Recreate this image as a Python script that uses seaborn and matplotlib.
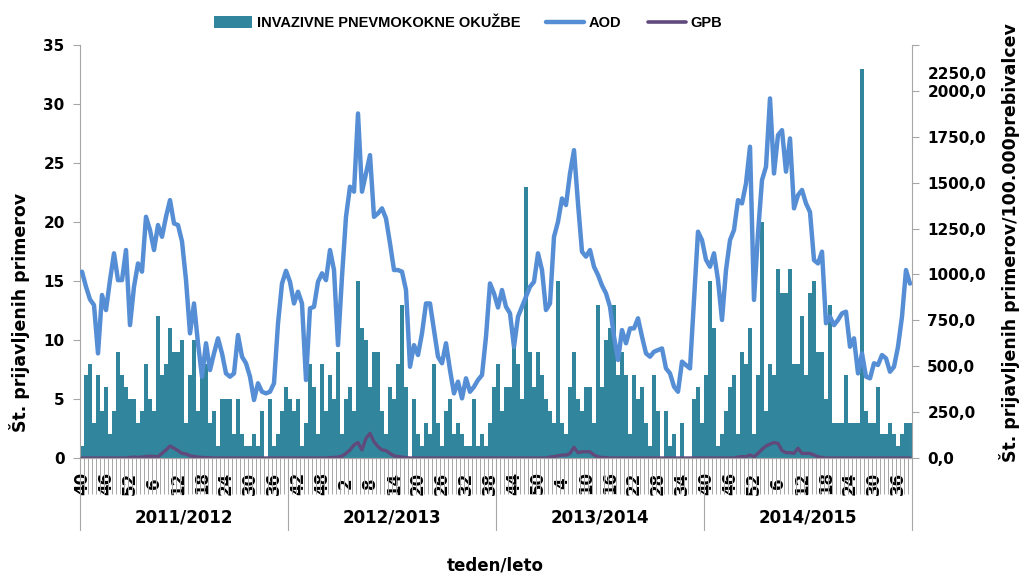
import numpy as np
import pandas as pd
import seaborn as sns
import matplotlib.pyplot as plt
from matplotlib.lines import Line2D
from matplotlib.patches import Patch
from matplotlib.ticker import FuncFormatter
from matplotlib.transforms import ScaledTranslation

# --- weekly data, week 40/2011 .. week 39/2015 (4 seasons x 52 weeks) ---
cases = [
    1, 7, 8, 3, 7, 4, 6, 2, 4, 9, 7, 6, 5, 5, 3, 4, 8, 5, 4, 12, 7, 8, 11, 9, 9, 10,
    3, 7, 10, 4, 8, 8, 3, 4, 1, 5, 5, 5, 2, 5, 2, 1, 1, 2, 1, 4, 0, 5, 1, 2, 4, 6,
    5, 4, 5, 1, 3, 8, 6, 2, 8, 4, 7, 5, 9, 2, 5, 6, 4, 15, 11, 10, 6, 9, 9, 4, 2, 6,
    5, 8, 13, 6, 0, 5, 2, 1, 3, 2, 8, 3, 1, 4, 5, 2, 3, 2, 1, 1, 5, 1, 2, 1, 3, 6,
    8, 4, 6, 6, 11, 8, 5, 23, 9, 6, 9, 7, 5, 4, 3, 15, 3, 2, 6, 9, 5, 4, 6, 6, 3, 13,
    6, 10, 11, 13, 7, 9, 7, 2, 7, 5, 6, 3, 1, 7, 4, 0, 4, 1, 2, 0, 3, 0, 0, 5, 6, 3,
    7, 15, 11, 1, 2, 4, 6, 7, 2, 9, 8, 11, 2, 7, 20, 4, 8, 7, 16, 14, 14, 16, 8, 8, 12, 7,
    14, 15, 9, 9, 5, 13, 3, 3, 3, 7, 3, 3, 3, 33, 4, 3, 3, 6, 2, 2, 3, 2, 1, 2, 3, 3,
]
aod = [
    1015, 933, 864, 833, 570, 888, 806, 969, 1115, 969, 969, 1133, 724, 933, 1060, 1015,
    1314, 1242, 1133, 1269, 1205, 1314, 1405, 1278, 1269, 1180, 970, 679, 842, 625, 443, 625,
    479, 570, 652, 570, 461, 443, 461, 670, 552, 516, 443, 316, 407, 361, 352, 361,
    407, 733, 950, 1020,
    960, 842, 906, 842, 425, 815, 824, 960, 1006, 969, 1133, 1024, 615, 988, 1314, 1478,
    1451, 1877, 1451, 1550, 1650, 1314, 1333, 1360, 1305, 1169, 1024, 1024, 1015, 915, 497, 615,
    561, 679, 842, 842, 697, 552, 516, 625, 479, 352, 416, 325, 434, 361, 388, 425,
    452, 661, 951, 897,
    820, 915, 824, 788, 606, 770, 824, 879, 933, 960, 1115, 1024, 806, 842, 1205, 1287,
    1414, 1378, 1550, 1677, 1387, 1124, 1097, 1133, 1042, 997, 940, 897, 824, 661, 534, 697,
    625, 706, 706, 761, 661, 570, 552, 579, 588, 597, 488, 461, 389, 361, 525, 506,
    488, 860, 1233, 1187,
    1080, 1042, 1115, 970, 752, 1024, 1187, 1242, 1405, 1387, 1496, 1696, 861, 1224, 1514, 1587,
    1959, 1550, 1759, 1786, 1560, 1741, 1360, 1432, 1460, 1387, 1340, 1078, 1060, 1124, 734, 770,
    724, 752, 788, 797, 606, 652, 461, 570, 443, 434, 516, 507, 561, 543, 470, 497,
    606, 770, 1024, 950,
]
gpb = [
    0, 0, 0, 0, 0, 0, 0, 0, 0, 0, 0, 0, 3, 5, 3, 5, 8, 10, 8, 7, 25, 44, 65, 53, 40, 25,
    22, 12, 8, 5, 3, 2, 1, 0, 0, 0, 0, 0, 0, 0, 0, 0, 0, 0, 0, 0, 0, 0, 0, 0, 0, 0,
    0, 0, 0, 0, 0, 0, 0, 0, 0, 0, 2, 3, 5, 10, 25, 44, 71, 84, 44, 107, 134, 89, 62, 44, 40, 25,
    11, 8, 5, 2, 0, 0, 0, 0, 0, 0, 0, 0, 0, 0, 0, 0, 0, 0, 0, 0, 0, 0, 0, 0, 0, 0,
    0, 0, 0, 0, 0, 0, 0, 0, 0, 0, 0, 0, 0, 5, 8, 12, 16, 16, 25, 58, 29, 34, 34, 34, 16, 7,
    3, 2, 0, 0, 0, 0, 0, 0, 0, 0, 0, 0, 0, 0, 0, 0, 0, 0, 0, 0, 0, 0, 0, 0, 0, 0,
    0, 0, 0, 0, 0, 0, 0, 0, 5, 8, 7, 16, 7, 25, 47, 65, 76, 84, 80, 40, 29, 29, 25, 53, 25, 25,
    25, 16, 7, 3, 0, 0, 0, 0, 0, 0, 0, 0, 0, 0, 0, 0, 0, 0, 0, 0, 0, 0, 0, 0, 0, 0,
]
week_labels = ["40", "46", "52", "6", "12", "18", "24", "30", "36",
               "42", "48", "2", "8", "14", "20", "26", "32", "38",
               "44", "50", "4", "10", "16", "22", "28", "34",
               "40", "46", "52", "6", "12", "18", "24", "30", "36"]
seasons = ["2011/2012", "2012/2013", "2013/2014", "2014/2015"]
season_len = 52

df = pd.DataFrame({"pos": np.arange(len(cases)), "cases": cases, "aod": aod, "gpb": gpb})

TEAL = "#31859C"
BLUE = "#558ED5"
PURPLE = "#604A7B"
GREY = "#A6A6A6"

sns.set_style("ticks")
plt.rcParams['font.family'] = ['DejaVu Sans']
plt.rcParams['font.weight'] = 'bold'
plt.rcParams['text.color'] = 'black'

fig = plt.figure(figsize=(10.2, 5.74), dpi=100)
ax = fig.add_axes([80 / 1020, 1 - 458 / 574, 832 / 1020, 413 / 574])

sns.barplot(data=df, x="pos", y="cases", native_scale=True, width=1.0, color=TEAL,
            saturation=1, linewidth=0, errorbar=None, ax=ax)
ax.set_ylim(0, 35)
ax.set_yticks(range(0, 36, 5))
ax.set_xlim(-0.5, len(cases) - 0.5)

ax2 = ax.twinx()
sns.lineplot(data=df, x="pos", y="aod", color=BLUE, linewidth=3.2, ax=ax2)
sns.lineplot(data=df, x="pos", y="gpb", color=PURPLE, linewidth=2.4, ax=ax2)
ax2.set_ylim(0, 2250)
ax2.set_yticks(range(0, 2251, 250))
ax2.yaxis.set_major_formatter(FuncFormatter(lambda v, p: f"{v:.1f}".replace(".", ",")))
ax2.set_xlim(-0.5, len(cases) - 0.5)

for a in (ax, ax2):
    a.set_xlabel("")
    a.set_ylabel("")
    a.spines["top"].set_visible(False)
    for s in a.spines.values():
        s.set_color(GREY)
ax2.spines["left"].set_visible(False)
ax.spines["right"].set_visible(False)
ax2.spines["right"].set_visible(True)

ax.tick_params(axis="y", length=5, color=GREY, labelcolor="black", labelsize=11, pad=6)
ax2.tick_params(axis="y", length=5, color=GREY, labelcolor="black", labelsize=11, pad=6)
for lab in ax.get_yticklabels() + ax2.get_yticklabels():
    lab.set_fontweight("bold")

# the top right tick label sits lower in the reference
top_tick = ax2.yaxis.get_major_ticks()[-1]
top_tick.label2.set_transform(top_tick.label2.get_transform()
                              + ScaledTranslation(0, -0.28, fig.dpi_scale_trans))

# x axis: a tick between each week, labels every 6 weeks
ax.set_xticks(np.arange(0, len(cases), 6))
ax.set_xticklabels(week_labels, rotation=90, va="center", fontsize=12, fontweight="bold")
ax.set_xticks(np.arange(-0.5, len(cases), 1), minor=True)
ax.tick_params(axis="x", which="major", length=0, pad=18, labelcolor="black")
ax.tick_params(axis="x", which="minor", length=26, width=0.7, color=GREY)

for k, name in enumerate(seasons):
    ax.axvline(k * season_len - 0.5, ymin=-0.175, ymax=0, color=GREY, lw=0.8, clip_on=False)
    ax.text(k * season_len + season_len / 2 - 0.5, -0.145, name, transform=ax.get_xaxis_transform(),
            ha="center", va="center", fontsize=12, fontweight="bold")
ax.axvline(len(cases) - 0.5, ymin=-0.175, ymax=0, color=GREY, lw=0.8, clip_on=False)

fig.text(20 / 1020, 1 - 312 / 574, "Št. prijavljenih primerov", rotation=90,
         ha="center", va="center", fontsize=12.5, fontweight="bold")
fig.text(1010 / 1020, 1 - 462 / 574, "Št. prijavljenih primerov/100.000prebivalcev", rotation=90,
         ha="center", va="bottom", fontsize=12.5, fontweight="bold")
fig.text(495 / 1020, 1 - 565 / 574, "teden/leto", ha="center", va="center",
         fontsize=12, fontweight="bold")

handles = [Patch(facecolor=TEAL, edgecolor="none"),
           Line2D([], [], color=BLUE, lw=3.2),
           Line2D([], [], color=PURPLE, lw=2.6)]
fig.legend(handles, ["INVAZIVNE PNEVMOKOKNE OKUŽBE", "AOD", "GPB"], ncol=3,
           loc="center", bbox_to_anchor=(468 / 1020, 1 - 23 / 574), frameon=False,
           prop={"family": ["Liberation Sans", "DejaVu Sans"], "size": 10.5, "weight": "bold"},
           handlelength=2.6, handleheight=0.8, handletextpad=0.3, columnspacing=1.8)

fig.savefig("out.png", dpi=100)
